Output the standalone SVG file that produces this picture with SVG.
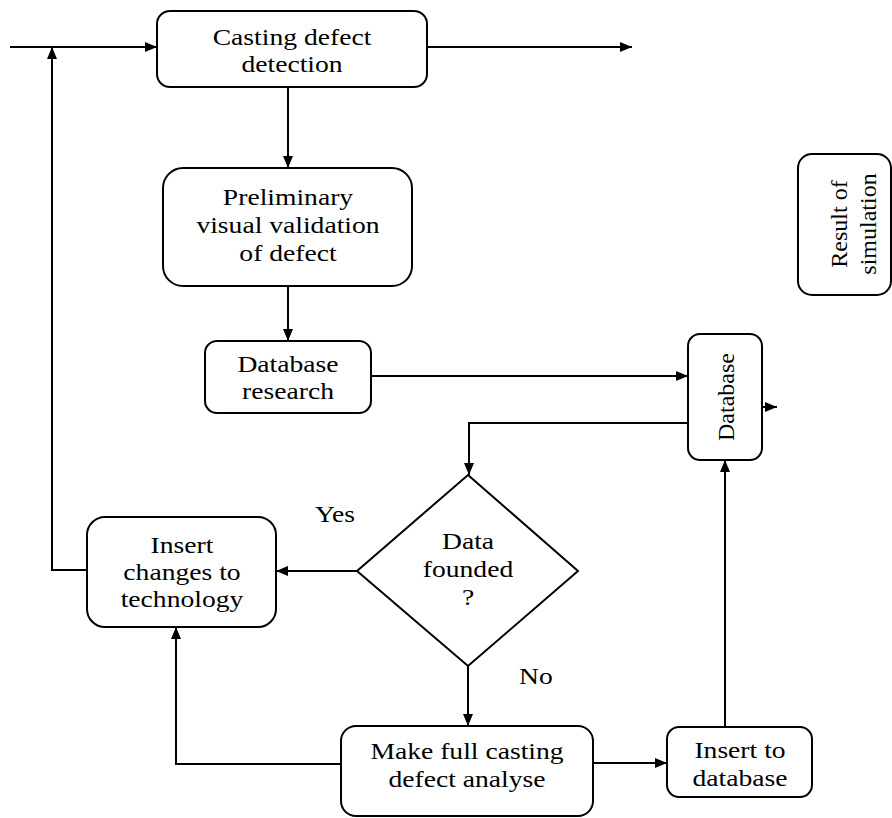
<svg xmlns="http://www.w3.org/2000/svg" width="892" height="818" viewBox="0 0 892 818">
<defs>
<marker id="ah" viewBox="0 0 12 10" refX="12" refY="5" markerWidth="12" markerHeight="10" markerUnits="userSpaceOnUse" orient="auto">
<path d="M0,0 L12,5 L0,10 Z" fill="#000"/>
</marker>
<style>
.box{fill:#fff;stroke:#000;stroke-width:2}
.ln{fill:none;stroke:#000;stroke-width:2}
.ar{fill:none;stroke:#000;stroke-width:2;marker-end:url(#ah)}
text{font-family:"Liberation Serif","Times New Roman",serif;font-size:24px;fill:#000}
.c{text-anchor:middle}
</style>
</defs>
<rect width="892" height="818" fill="#fff"/>
<g id="connectors">
<path class="ar" d="M10,47 H157"/>
<path class="ar" d="M427,47 H632"/>
<path class="ar" d="M288,87 V168"/>
<path class="ar" d="M288,286 V341"/>
<path class="ar" d="M371,376 H688"/>
<path class="ar" d="M689,423 H469 V475"/>
<path class="ar" d="M757,407 H777"/>
<path class="ar" d="M357,571 H276"/>
<path class="ar" d="M87,570 H52 V47"/>
<path class="ar" d="M468,666 V726"/>
<path class="ar" d="M341,764 H176 V627"/>
<path class="ar" d="M593,763 H667"/>
<path class="ar" d="M725,727 V460"/>
</g>
<g id="casting">
<rect class="box" x="157" y="11" width="270" height="76" rx="13"/>
<text class="c" transform="translate(292,45) scale(1.15,1)"><tspan x="0">Casting defect</tspan><tspan x="0" dy="27">detection</tspan></text>
</g>
<g id="preliminary">
<rect class="box" x="163" y="168" width="249" height="118" rx="20"/>
<text class="c" transform="translate(288,205) scale(1.15,1)"><tspan x="0">Preliminary</tspan><tspan x="0" dy="28">visual validation</tspan><tspan x="0" dy="28">of defect</tspan></text>
</g>
<g id="dbresearch">
<rect class="box" x="205" y="341" width="166" height="72" rx="12"/>
<text class="c" transform="translate(288,372) scale(1.15,1)"><tspan x="0">Database</tspan><tspan x="0" dy="27">research</tspan></text>
</g>
<g id="database">
<rect class="box" x="688" y="334" width="74" height="126" rx="12"/>
<text class="c" transform="translate(734,397) rotate(-90)">Database</text>
</g>
<g id="result">
<rect class="box" x="798" y="154" width="93" height="141" rx="14"/>
<text class="c" transform="translate(847,224) rotate(-90)">Result of</text>
<text class="c" transform="translate(876,224) rotate(-90)">simulation</text>
</g>
<g id="decision">
<polygon class="box" points="468,475 578,571 468,666 357,571"/>
<text class="c" transform="translate(468,549) scale(1.15,1)"><tspan x="0">Data</tspan><tspan x="0" dy="28">founded</tspan><tspan x="0" dy="28">?</tspan></text>
</g>
<g id="insertchanges">
<rect class="box" x="87" y="517" width="189" height="110" rx="18"/>
<text class="c" transform="translate(182,553) scale(1.15,1)"><tspan x="0">Insert</tspan><tspan x="0" dy="27">changes to</tspan><tspan x="0" dy="27">technology</tspan></text>
</g>
<g id="makefull">
<rect class="box" x="341" y="726" width="252" height="90" rx="15"/>
<text class="c" transform="translate(467,759) scale(1.15,1)"><tspan x="0">Make full casting</tspan><tspan x="0" dy="28">defect analyse</tspan></text>
</g>
<g id="insertdb">
<rect class="box" x="667" y="727" width="145" height="70" rx="12"/>
<text class="c" transform="translate(740,758) scale(1.15,1)"><tspan x="0">Insert to</tspan><tspan x="0" dy="28">database</tspan></text>
</g>
<g id="labels">
<text class="c" transform="translate(335,522) scale(1.15,1)">Yes</text>
<text transform="translate(519,684) scale(1.15,1)">No</text>
</g>
</svg>
